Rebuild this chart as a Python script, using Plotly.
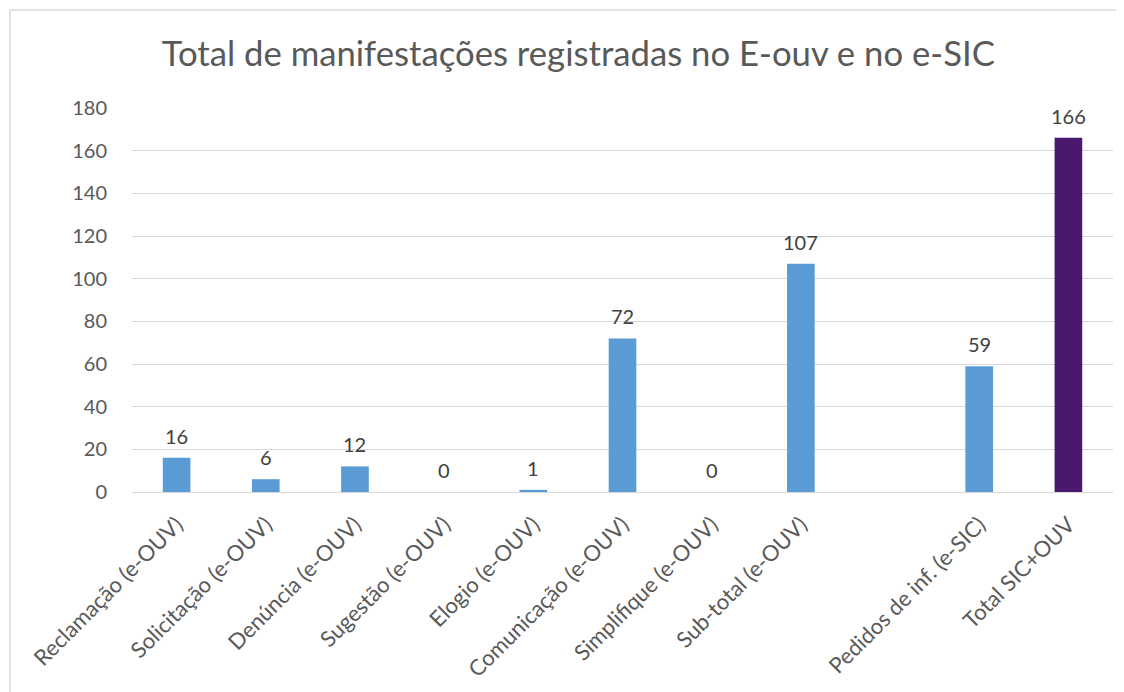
import plotly.graph_objects as go

title_text = "Total de manifestações registradas no E-ouv e no e-SIC"
categories = [
    "Reclamação (e-OUV)", "Solicitação (e-OUV)", "Denúncia (e-OUV)",
    "Sugestão (e-OUV)", "Elogio (e-OUV)", "Comunicação (e-OUV)",
    "Simplifique (e-OUV)", "Sub-total (e-OUV)", " ",
    "Pedidos de inf. (e-SIC)", "Total SIC+OUV",
]
values = [16, 6, 12, 0, 1, 72, 0, 107, None, 59, 166]
bar_colors = ["#5b9bd5"] * 10 + ["#4a186f"]
y_ticks = [0, 20, 40, 60, 80, 100, 120, 140, 160, 180]

FONT = "Lato"
TXT = "#595959"

fig = go.Figure()
fig.add_trace(go.Bar(
    x=categories, y=values,
    marker=dict(color=bar_colors, line=dict(width=0)),
    width=0.31, hoverinfo="x+y",
))

annotations = []
for c, v in zip(categories, values):
    if v is None:
        continue
    annotations.append(dict(
        x=c, y=v, xref="x", yref="y", text=str(v), showarrow=False,
        yanchor="bottom", yshift=8,
        font=dict(family=FONT, size=20, color="#404040"),
    ))

fig.update_layout(
    width=1116, height=684,
    paper_bgcolor="white", plot_bgcolor="white",
    margin=dict(l=124, r=11, t=100, b=200, autoexpand=False),
    title=dict(text=title_text, x=0.511, xanchor="center", y=1 - 46 / 684, yanchor="middle",
               font=dict(family=FONT, size=34.7, color=TXT)),
    showlegend=False,
    annotations=annotations,
    shapes=[dict(type="rect", xref="paper", yref="paper",
                 x0=-0.1244, x1=1.05, y0=-0.7, y1=1.255,
                 line=dict(color="#d9d9d9", width=1.5), layer="below")],
)
fig.update_yaxes(
    range=[0, 180], tickvals=y_ticks, showgrid=True, gridcolor="#d9d9d9", gridwidth=1,
    zeroline=False, showline=False, ticks="outside", ticklen=20, tickcolor="rgba(0,0,0,0)",
    tickfont=dict(family=FONT, size=20, color=TXT), fixedrange=True,
)
fig.update_xaxes(
    type="category", categoryorder="array", categoryarray=categories,
    showline=True, linecolor="#d9d9d9", linewidth=1,
    ticks="outside", ticklen=10, tickcolor="rgba(0,0,0,0)",
    tickangle=-45, tickfont=dict(family=FONT, size=22, color=TXT),
)

fig.write_html("out.html")
